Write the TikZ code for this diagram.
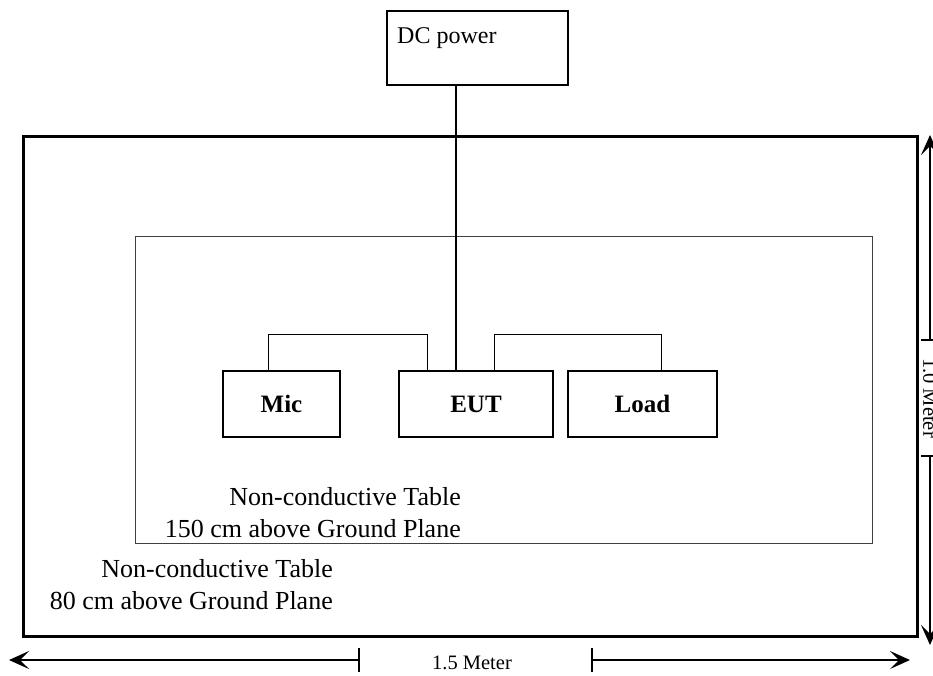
\documentclass[tikz,border=0pt]{standalone}
\usepackage{fontspec}
\setmainfont{Liberation Serif}
\usetikzlibrary{arrows.meta}
\begin{document}
\begin{tikzpicture}[x=1pt,y=-1pt,
  boxb/.style={draw, line width=1.5pt},
  lbl/.style={font=\fontsize{26}{29}\selectfont, inner sep=0pt},
  dclbl/.style={font=\fontsize{24}{27}\selectfont, inner sep=0pt},
  blbl/.style={font=\fontsize{25}{28}\selectfont\bfseries, inner sep=0pt},
  dim/.style={line width=1.3pt},
  tip/.style={-{Stealth[length=20pt,width=18pt,inset=9pt]}},
  small/.style={font=\fontsize{20.5}{23}\selectfont, inner sep=0pt}]
\useasboundingbox (0,0) rectangle (933,675);
% outer table
\draw[line width=3pt] (23,136) rectangle (917,636);
% inner table
\draw[line width=1pt, black!75] (135,236) rectangle (872,543);
% DC power
\draw[boxb] (387,11) rectangle (568,85);
\coordinate (dcb) at (456,85);
\node[dclbl, anchor=base west] (dc) at (397,43) {DC power};
% boxes
\draw[boxb] (223,371) rectangle (340,437);
\node[blbl] (mic) at (281.5,404) {Mic};
\draw[boxb] (399,371) rectangle (553,437);
\node[blbl] (eut) at (476,404) {EUT};
\draw[boxb] (568,371) rectangle (717,437);
\node[blbl] (load) at (642.5,404) {Load};
\coordinate (mict) at (268,371);
\coordinate (eutl) at (427,371);
\coordinate (eutp) at (456,371);
\coordinate (eutr) at (494,371);
\coordinate (loadt) at (661,371);
% wires
\draw[line width=1.2pt] (dcb) -- (eutp);
\draw[line width=0.9pt] (mict) -- (268,334) -- (427,334) -- (eutl);
\draw[line width=0.9pt] (eutr) -- (494,334) -- (661,334) -- (loadt);
% labels
\node[lbl, anchor=base east] (t1) at (461,505) {Non-conductive Table};
\node[lbl, anchor=base east] (t2) at (461,537) {150 cm above Ground Plane};
\node[lbl, anchor=base east] (t3) at (333,577) {Non-conductive Table};
\node[lbl, anchor=base east] (t4) at (333,609) {80 cm above Ground Plane};
% bottom dimension
\coordinate (bl) at (359,660);
\coordinate (br) at (592,660);
\draw[dim, tip] (bl) -- (9,660);
\draw[dim, tip] (br) -- (910,660);
\draw[dim] (359,648) -- (359,672);
\draw[dim] (592,648) -- (592,672);
\node[small] (m15) at (472,663) {1.5 Meter};
% right dimension
\coordinate (rt) at (930,340);
\coordinate (rb) at (930,456);
\draw[dim, tip] (rt) -- (930,135);
\draw[dim, tip] (rb) -- (930,645);
\draw[dim] (921,340) -- (935,340);
\draw[dim] (921,456) -- (935,456);
\node[small, rotate=-90] (m10) at (930,398) {1.0 Meter};
\end{tikzpicture}
\end{document}
